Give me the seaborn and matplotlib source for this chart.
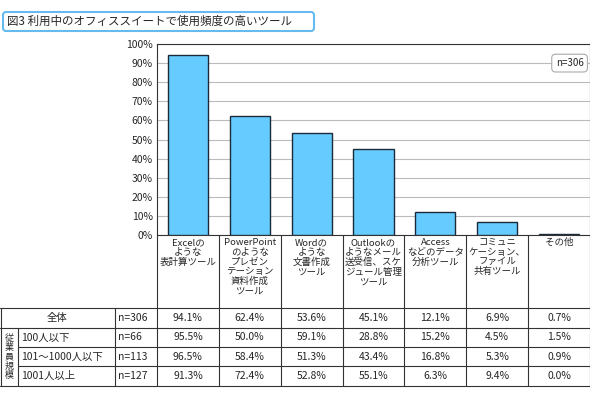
import matplotlib
matplotlib.use("Agg")
import matplotlib.pyplot as plt
import seaborn as sns
import pandas as pd
from matplotlib.patches import FancyBboxPatch
from matplotlib.lines import Line2D

sns.set_theme(style="white")
plt.rcParams['font.family'] = ['Noto Sans CJK JP', 'DejaVu Sans']

title = "図3 利用中のオフィススイートで使用頻度の高いツール"
categories = ["Excelの\nような\n表計算ツール", "PowerPoint\nのような\nプレゼン\nテーション\n資料作成\nツール",
              "Wordの\nような\n文書作成\nツール", "Outlookの\nようなメール\n送受信、スケ\nジュール管理\nツール",
              "Access\nなどのデータ\n分析ツール", "コミュニ\nケーション、\nファイル\n共有ツール", "その他"]
overall = [94.1, 62.4, 53.6, 45.1, 12.1, 6.9, 0.7]
row_labels = ["全体", "100人以下", "101～1000人以下", "1001人以上"]
row_n = ["n=306", "n=66", "n=113", "n=127"]
rows = [overall,
        [95.5, 50.0, 59.1, 28.8, 15.2, 4.5, 1.5],
        [96.5, 58.4, 51.3, 43.4, 16.8, 5.3, 0.9],
        [91.3, 72.4, 52.8, 55.1, 6.3, 9.4, 0.0]]
group_label = "従\n業\n員\n規\n模"

W, H = 590, 400
fig = plt.figure(figsize=(5.9, 4.0), dpi=100)
ax_l, ax_r, ax_t, ax_b = 157, 590, 44, 235
ax = fig.add_axes([ax_l / W, 1 - ax_b / H, (ax_r - ax_l) / W, (ax_b - ax_t) / H])
df = pd.DataFrame({"cat": categories, "val": overall})
sns.barplot(data=df, x="cat", y="val", ax=ax, color="#66CCFF", saturation=1,
            edgecolor="#1a2a3a", linewidth=1, width=0.65, zorder=3)
ax.set_ylim(0, 100)
ax.set_xlim(-0.5, len(categories) - 0.5)
ax.set_yticks(range(0, 101, 10))
ax.set_yticklabels([f"{v}%" for v in range(0, 101, 10)], fontsize=7.5)
ax.yaxis.grid(True, color="#bbbbbb", linewidth=0.8, zorder=0)
ax.set_xticks([])
ax.set_xlabel(""); ax.set_ylabel("")
ax.tick_params(axis="y", length=0, pad=3)
for s in ax.spines.values():
    s.set_color("#333333"); s.set_linewidth(0.8)
ax.text(0.985, 0.9, "n=306", transform=ax.transAxes, ha="right", va="center", fontsize=7,
        bbox=dict(boxstyle="round,pad=0.4", fc="white", ec="#aaaaaa", lw=0.8))

ov = fig.add_axes([0, 0, 1, 1])
ov.set_xlim(0, W); ov.set_ylim(H, 0); ov.axis("off")
ov.add_patch(FancyBboxPatch((3, 12), 311, 19, boxstyle="round,pad=0,rounding_size=3",
                            fc="white", ec="#66BBEE", lw=1.5))
ov.text(7, 21.5, title, fontsize=8.3, va="center", ha="left")

colw = (ax_r - ax_l) / len(categories)
lc = "#333333"
row_y = [308, 328, 347, 366, 386]
for i, c in enumerate(categories):
    ov.text(ax_l + colw * (i + 0.5), ax_b + 3, c, ha="center", va="top", fontsize=6.8, linespacing=1.1)
for i in range(len(categories) + 1):
    x = ax_l + colw * i
    ov.add_line(Line2D([x, x], [ax_b, row_y[-1]], color=lc, lw=0.8))
ov.add_line(Line2D([0.5, 0.5], [row_y[0], row_y[-1]], color=lc, lw=0.8))
ov.add_line(Line2D([115, 115], [row_y[0], row_y[-1]], color=lc, lw=0.8))
ov.add_line(Line2D([18, 18], [row_y[1], row_y[-1]], color=lc, lw=0.8))
for j, y in enumerate(row_y):
    x0 = 0 if j in (0, 1, len(row_y) - 1) else 18
    ov.add_line(Line2D([x0, ax_r], [y, y], color=lc, lw=0.8))
ov.text(9, (row_y[1] + row_y[-1]) / 2, group_label, ha="center", va="center", fontsize=6.5, linespacing=1.05)
for r in range(4):
    yc = (row_y[r] + row_y[r + 1]) / 2
    if r == 0:
        ov.text(57, yc, row_labels[r], ha="center", va="center", fontsize=7.5)
    else:
        ov.text(21, yc, row_labels[r], ha="left", va="center", fontsize=7.5)
    ov.text(118, yc, row_n[r], ha="left", va="center", fontsize=7.5)
    for i, v in enumerate(rows[r]):
        ov.text(ax_l + colw * (i + 0.5), yc, f"{v:.1f}%", ha="center", va="center", fontsize=7.5)

fig.savefig("out.png", dpi=100, facecolor="white")
